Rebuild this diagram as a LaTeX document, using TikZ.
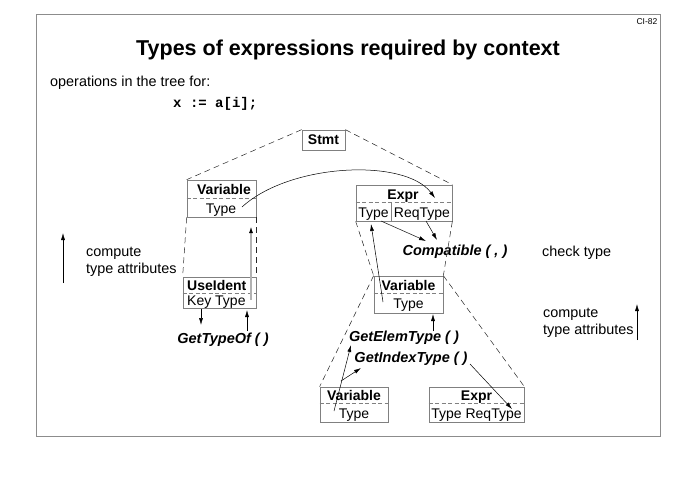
\documentclass[tikz,border=0pt]{standalone}
\usepackage{fontspec}
\setmainfont{Liberation Sans}
\setmonofont{Liberation Mono}
\usetikzlibrary{arrows.meta,calc}
\begin{document}
\begin{tikzpicture}[x=1pt,y=-1pt]
\tikzset{
 boxst/.style={draw=black!50, line width=0.7pt, inner sep=0pt},
 divst/.style={draw=black!50, dash pattern=on 4pt off 2.5pt, line width=0.6pt},
 treest/.style={draw=black!85, dash pattern=on 6pt off 4pt, line width=0.5pt},
 arr/.style={-{Latex[length=7pt,width=4pt]}, line width=0.5pt},
 grayarr/.style={-{Latex[length=7pt,width=4pt,color=black]}, line width=1.6pt, draw=black!30},
 lbl/.style={font=\fontsize{14.4}{17}\selectfont, inner sep=0pt, align=left},
 boxtxt/.style={font=\fontsize{14}{16}\selectfont, inner sep=1pt, anchor=base},
 boxbold/.style={boxtxt, font=\fontsize{14}{16}\selectfont\bfseries},
 fn/.style={font=\fontsize{14.5}{17}\selectfont\bfseries\itshape, inner sep=1pt},
}
\useasboundingbox (0,0) rectangle (678,480);
\draw[black!45, line width=0.8pt] (36,14) rectangle (660,436);

% header texts
\node[font=\fontsize{21.5}{26}\selectfont\bfseries, anchor=base] (title) at (348,55) {Types of expressions required by context};
\node[font=\fontsize{8.5}{10}\selectfont, inner sep=0pt] (num) at (647,22) {CI-82};
\node[lbl, anchor=west] (ops) at (50,83) {operations in the tree for:};
\node[font=\fontsize{14}{16}\selectfont\ttfamily\bfseries, anchor=west, inner sep=0pt] (code) at (173,104) {x := a[i];};

% boxes
\node[boxst, minimum width=43pt, minimum height=20pt, font=\fontsize{14}{16}\selectfont\bfseries] (stmt) at (323.5,140) {Stmt};
\node[boxst, minimum width=69pt, minimum height=37pt] (v1) at (221.5,198.5) {};
\node[boxst, minimum width=96pt, minimum height=36pt] (e1) at (404,203) {};
\node[boxst, minimum width=73pt, minimum height=31pt] (u1) at (219.5,292.5) {};
\node[boxst, minimum width=69pt, minimum height=37pt] (v2) at (408.5,294.5) {};
\node[boxst, minimum width=68pt, minimum height=35pt] (v3) at (354,404.5) {};
\node[boxst, minimum width=95pt, minimum height=35pt] (e3) at (476.5,404.5) {};

% dividers
\draw[divst] ([yshift=-19pt]v1.north west) -- ([yshift=-19pt]v1.north east);
\draw[divst] ([yshift=-18pt]e1.north west) -- ([yshift=-18pt]e1.north east);
\draw[boxst] ([yshift=-18pt,xshift=35.5pt]e1.north west) -- ([xshift=35.5pt]e1.south west);
\draw[divst] ([yshift=-17pt]u1.north west) -- ([yshift=-17pt]u1.north east);
\draw[divst] ([yshift=-18pt]v2.north west) -- ([yshift=-18pt]v2.north east);
\draw[divst] ([yshift=-17pt]v3.north west) -- ([yshift=-17pt]v3.north east);
\draw[divst] ([yshift=-17pt]e3.north west) -- ([yshift=-17pt]e3.north east);

% box texts
\node[boxbold] (v1n) at (224,194.5) {Variable};
\node[boxtxt] (v1t) at (221,213) {Type};
\node[boxbold] (e1n) at (403,199) {Expr};
\node[boxtxt] (e1t) at (373.5,217) {Type};
\node[boxtxt] (e1r) at (422,217) {ReqType};
\node[boxbold, anchor=base west] (u1n) at (186,290.5) {UseIdent};
\node[boxtxt, anchor=base west] (u1t) at (186,305.5) {Key Type};
\node[boxbold] (v2n) at (408.5,290) {Variable};
\node[boxtxt] (v2t) at (408.5,308.5) {Type};
\node[boxbold] (v3n) at (354,400) {Variable};
\node[boxtxt] (v3t) at (354,418) {Type};
\node[boxbold] (e3n) at (476.5,400) {Expr};
\node[boxtxt] (e3t) at (476.5,418) {Type ReqType};

% function labels
\node[fn] (gto) at (223,340) {GetTypeOf ( )};
\node[fn] (cmp) at (455,252) {Compatible ( , )};
\node[fn] (gel) at (404,338) {GetElemType ( )};
\node[fn] (gix) at (411,359) {GetIndexType ( )};

% side labels
\node[lbl, anchor=west] (lc) at (86,261.5) {compute\\type attributes};
\node[lbl, anchor=west] (ck) at (542,253) {check type};
\node[lbl, anchor=west] (rc) at (543,323) {compute\\type attributes};
\coordinate (la1) at (63,283); \coordinate (la2) at (63,233);
\coordinate (ra1) at (637,340); \coordinate (ra2) at (637,304);
\draw[arr] (la1) -- (la2);
\draw[arr] (ra1) -- (ra2);

% tree edges
\draw[treest] (stmt.north west) -- (v1.north west);
\draw[treest] (stmt.north east) -- (e1.north east);
\draw[treest] (v1.south west) -- (u1.north west);
\draw[treest] (v1.south east) -- (u1.north east);
\draw[treest] (e1.south west) -- (v2.north west);
\draw[treest] (e1.south east) -- (v2.north east);
\draw[treest] (v2.north west) -- (v3.north west);
\draw[treest] (v2.north east) -- (e3.north east);

% attribute connectors
\coordinate (c1s) at (242,207); \coordinate (c1e) at (435,198);
\draw[arr] (c1s) .. controls (290,163) and (405,158) .. (c1e);
\coordinate (a2s) at (251,300); \coordinate (a2e) at (251,226);
\draw[grayarr] (a2s) -- (a2e);
\coordinate (a3s) at (201,309); \coordinate (a3e) at (201,325);
\draw[arr] (a3s) -- (a3e);
\coordinate (a3bs) at (247,331); \coordinate (a3be) at (247,310);
\draw[arr] (a3bs) -- (a3be);
\coordinate (a4s) at (381,221); \coordinate (a4e) at (426,241);
\draw[arr] (a4s) -- (a4e);
\coordinate (a5s) at (426,221); \coordinate (a5e) at (437,240);
\draw[arr] (a5s) -- (a5e);
\coordinate (a6s) at (383,302); \coordinate (a6e) at (371,224);
\draw[arr] (a6s) -- (a6e);
\coordinate (a7s) at (433,331); \coordinate (a7e) at (433,314);
\draw[arr] (a7s) -- (a7e);
\coordinate (a8s) at (334,411); \coordinate (a8e) at (351,345);
\draw[arr] (a8s) -- (a8e);
\coordinate (a9s) at (341,381); \coordinate (a9e) at (361,368);
\draw[arr] (a9s) -- (a9e);
\coordinate (a10s) at (470,364); \coordinate (a10e) at (512,409);
\draw[arr] (a10s) -- (a10e);
\end{tikzpicture}
\end{document}
